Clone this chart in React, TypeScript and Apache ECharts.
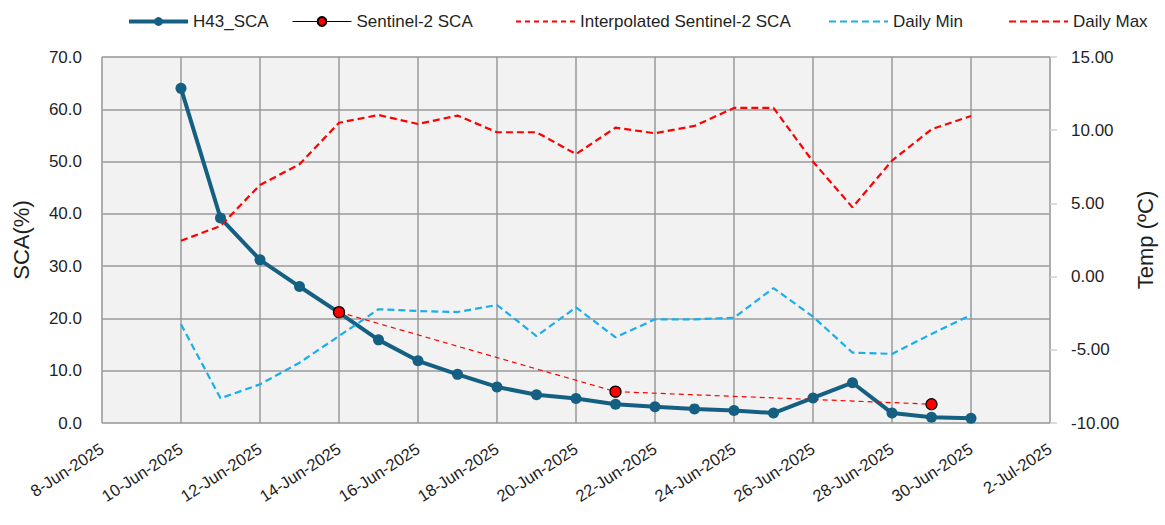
import React, { useEffect, useRef } from "react";
import * as echarts from "echarts";

const DATES = [
  "2025-06-10", "2025-06-11", "2025-06-12", "2025-06-13", "2025-06-14", "2025-06-15", "2025-06-16",
  "2025-06-17", "2025-06-18", "2025-06-19", "2025-06-20", "2025-06-21", "2025-06-22", "2025-06-23",
  "2025-06-24", "2025-06-25", "2025-06-26", "2025-06-27", "2025-06-28", "2025-06-29", "2025-06-30",
];
const H43_SCA = [64.0, 39.2, 31.2, 26.1, 21.1, 15.9, 11.9, 9.3, 6.9, 5.4, 4.7, 3.6, 3.1, 2.7, 2.4, 1.9, 4.8, 7.7, 1.9, 1.1, 0.9];
const S2_DATES = ["2025-06-14", "2025-06-21", "2025-06-29"];
const S2_SCA = [21.2, 6.0, 3.6];
const INTERP_DATES = ["2025-06-14", "2025-06-21", "2025-06-29"];
const INTERP_SCA = [21.2, 6.0, 3.6];
const DAILY_MIN = [-3.26, -8.31, -7.36, -5.88, -4.06, -2.23, -2.35, -2.42, -1.94, -4.06, -2.1, -4.15, -2.92, -2.92, -2.81, -0.78, -2.74, -5.19, -5.28, -3.92, -2.62];
const DAILY_MAX = [2.45, 3.46, 6.26, 7.67, 10.51, 11.04, 10.42, 11.0, 9.86, 9.86, 8.37, 10.17, 9.79, 10.29, 11.52, 11.52, 7.85, 4.73, 7.92, 10.06, 10.97];
const X_MIN_DATE = "2025-06-08";
const X_MAX_DATE = "2025-07-02";

const MONTHS = ["Jan", "Feb", "Mar", "Apr", "May", "Jun", "Jul", "Aug", "Sep", "Oct", "Nov", "Dec"];
const BASE = Date.UTC(2025, 5, 0);
const dayNum = (s: string) => {
  const [y, m, d] = s.split("-").map(Number);
  return Math.round((Date.UTC(y, m - 1, d) - BASE) / 86400000);
};
const fmtDay = (v: number) => {
  const dt = new Date(BASE + v * 86400000);
  return `${dt.getUTCDate()}-${MONTHS[dt.getUTCMonth()]}-${dt.getUTCFullYear()}`;
};

const FONT = "Liberation Sans, Arial, sans-serif";
const TXT = "#1f1f1f";

export default function App() {
  const ref = useRef<HTMLDivElement>(null);
  useEffect(() => {
    if (!ref.current) return;
    const chart = echarts.init(ref.current, undefined, { renderer: "svg" });
    const pairs = (ds: string[], vs: number[]) => ds.map((d, i) => [dayNum(d), vs[i]]);
    const legendBase = {
      top: 13,
      padding: 0,
      itemWidth: 59,
      itemHeight: 11,
      itemGap: 4,
      textStyle: { fontFamily: FONT, fontSize: 17, color: TXT },
      selectedMode: false,
    };
    const noSym = { opacity: 0 };
    chart.setOption({
      animation: false,
      textStyle: { fontFamily: FONT },
      grid: {
        left: 102,
        right: 115,
        top: 57,
        bottom: 102,
        containLabel: false,
        outerBoundsMode: "none",
        show: true,
        backgroundColor: "#f2f2f2",
        borderColor: "#d9d9d9",
        borderWidth: 1,
      },
      legend: [
        {
          ...legendBase,
          left: 127,
          data: [{ name: "H43_SCA", lineStyle: { width: 4, color: "#156082" } }],
        },
        {
          ...legendBase,
          left: 292,
          data: [
            {
              name: "Sentinel-2 SCA",
              lineStyle: { color: "#000", width: 1, opacity: 1, type: "solid" },
            },
          ],
        },
        {
          ...legendBase,
          left: 515,
          data: [{ name: "Interpolated Sentinel-2 SCA", itemStyle: noSym }],
        },
        { ...legendBase, left: 828, data: [{ name: "Daily Min", itemStyle: noSym }] },
        { ...legendBase, left: 1008, data: [{ name: "Daily Max", itemStyle: noSym }] },
      ],
      xAxis: {
        type: "value",
        min: dayNum(X_MIN_DATE),
        max: dayNum(X_MAX_DATE),
        interval: 2,
        axisLine: { show: false },
        axisTick: { show: false },
        splitLine: { show: true, lineStyle: { color: "#9a9a9a", width: 1.5 } },
        axisLabel: {
          rotate: 33,
          fontSize: 16.5,
          color: TXT,
          margin: 24,
          formatter: (v: number) => fmtDay(v),
        },
      },
      yAxis: [
        {
          type: "value",
          min: 0,
          max: 70,
          interval: 10,
          name: "SCA(%)",
          nameLocation: "middle",
          nameGap: 70,
          nameTextStyle: { fontSize: 22, color: TXT },
          axisLine: { show: false },
          axisTick: { show: false },
          splitLine: { show: true, lineStyle: { color: "#9a9a9a", width: 1.5 } },
          axisLabel: { fontSize: 17, color: TXT, margin: 20, formatter: (v: number) => v.toFixed(1) },
        },
        {
          type: "value",
          min: -10,
          max: 15,
          interval: 5,
          name: "Temp (ºC)",
          nameLocation: "middle",
          nameGap: 84,
          nameRotate: 90,
          nameTextStyle: { fontSize: 22, color: TXT },
          axisLine: { show: false },
          axisTick: { show: true, length: 7, lineStyle: { color: "#cfcfcf", width: 1.5 } },
          splitLine: { show: false },
          axisLabel: { fontSize: 17, color: TXT, margin: 21, formatter: (v: number) => v.toFixed(2) },
        },
      ],
      series: [
        {
          name: "H43_SCA",
          type: "line",
          yAxisIndex: 0,
          data: pairs(DATES, H43_SCA),
          symbol: "circle",
          symbolSize: 11,
          lineStyle: { color: "#156082", width: 4 },
          itemStyle: { color: "#156082" },
        },
        {
          name: "Sentinel-2 SCA",
          type: "line",
          yAxisIndex: 0,
          data: pairs(S2_DATES, S2_SCA),
          symbol: "circle",
          symbolSize: 11,
          lineStyle: { color: "#000", width: 1, opacity: 0 },
          itemStyle: { color: "#ff0000", borderColor: "#000", borderWidth: 1.2 },
          z: 5,
        },
        {
          name: "Interpolated Sentinel-2 SCA",
          type: "line",
          yAxisIndex: 0,
          data: pairs(INTERP_DATES, INTERP_SCA),
          symbol: "none",
          lineStyle: { color: "#ff0000", width: 1.2, type: [5, 4] },
          itemStyle: { color: "#ff0000" },
          z: 4,
        },
        {
          name: "Daily Min",
          type: "line",
          yAxisIndex: 1,
          data: pairs(DATES, DAILY_MIN),
          symbol: "none",
          lineStyle: { color: "#1aaeea", width: 2.2, type: [7, 4] },
          itemStyle: { color: "#1aaeea" },
        },
        {
          name: "Daily Max",
          type: "line",
          yAxisIndex: 1,
          data: pairs(DATES, DAILY_MAX),
          symbol: "none",
          lineStyle: { color: "#ff0000", width: 2.2, type: [7, 4] },
          itemStyle: { color: "#ff0000" },
        },
      ],
    });
    return () => chart.dispose();
  }, []);
  return (
    <div
      ref={ref}
      style={{ position: "absolute", left: 0, top: 0, width: 1165, height: 525 }}
    />
  );
}
